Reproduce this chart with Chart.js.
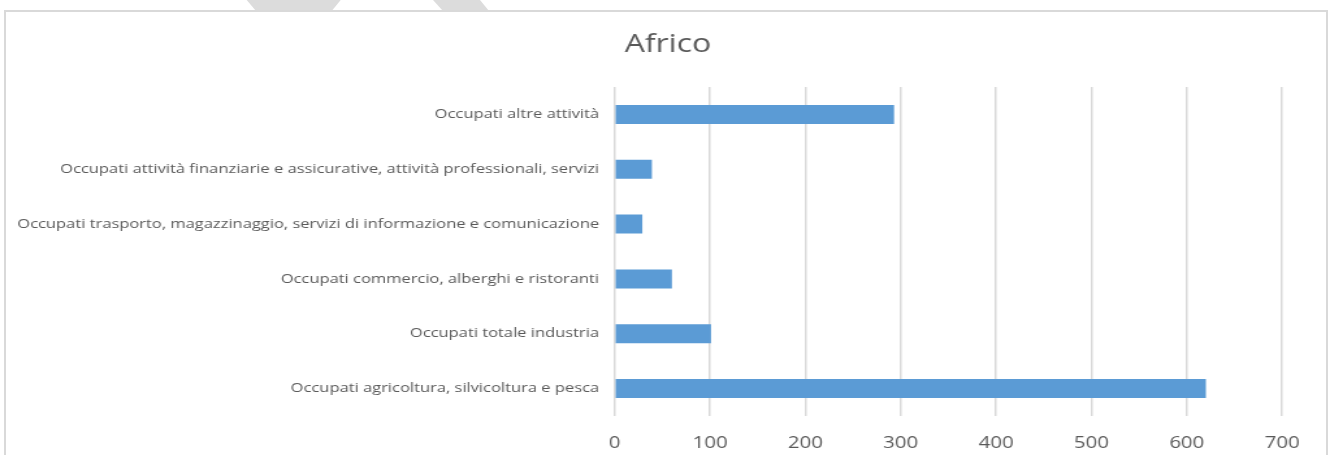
<!DOCTYPE html>
<html>
<head>
<meta charset="utf-8">
<script src="https://cdn.jsdelivr.net/npm/chart.js@4/dist/chart.umd.min.js"></script>
<style>
  html, body { margin: 0; padding: 0; background: #ffffff; overflow: hidden; }
  body { width: 1330px; height: 455px; position: relative; }
  #wm { position: absolute; left: 0; top: 0; }
  #frame { position: absolute; left: 4px; top: 10px; width: 1320px; height: 500px;
           border: 2px solid #d9d9d9; background: #ffffff; }
  #wrap { position: absolute; left: 0; top: 0; width: 1023px; height: 455px;
          transform: scaleX(1.3001); transform-origin: 0 0; }
  canvas { display: block; }
</style>
</head>
<body>
<svg id="wm" width="1330" height="12">
  <polygon points="246.7,0 340.7,0 331.7,11 256,11" fill="#dcdcdc"/>
  <polygon points="433,0 480,0 489,11 443,11" fill="#dcdcdc"/>
</svg>
<div id="frame"></div>
<div id="wrap"><canvas id="c" width="1023" height="455"></canvas></div>
<script>
const chartTitle = "Africo";
const categories = [
  "Occupati altre attività",
  "Occupati attività finanziarie e assicurative, attività professionali, servizi",
  "Occupati trasporto, magazzinaggio, servizi di informazione e comunicazione",
  "Occupati commercio, alberghi e ristoranti",
  "Occupati totale industria",
  "Occupati agricoltura, silvicoltura e pesca"
];
const occupati = [293, 39, 29, 60, 101, 620];
const xTicks = [0, 100, 200, 300, 400, 500, 600, 700];

const grey = "#595959";
const font = "'Open Sans', 'DejaVu Sans', sans-serif";

new Chart(document.getElementById("c"), {
  type: "bar",
  data: {
    labels: categories,
    datasets: [{
      data: occupati,
      backgroundColor: "#5b9bd5",
      borderWidth: 0,
      barPercentage: 0.347,
      categoryPercentage: 1.0
    }]
  },
  options: {
    indexAxis: "y",
    responsive: false,
    animation: false,
    devicePixelRatio: 1,
    layout: { padding: { left: 8, right: 3.4, top: 0, bottom: 0 } },
    plugins: {
      legend: { display: false },
      tooltip: { enabled: false },
      title: {
        display: true,
        text: chartTitle,
        color: grey,
        font: { family: font, size: 24.6, weight: "normal", lineHeight: 1.2 },
        padding: { top: 30.5, bottom: 27 }
      }
    },
    scales: {
      x: {
        min: xTicks[0],
        max: xTicks[xTicks.length - 1],
        afterBuildTicks: (s) => { s.ticks = xTicks.map(v => ({ value: v })); },
        afterFit: (s) => { s.height = 39; },
        grid: { color: "#d9d9d9", lineWidth: 1.5, drawTicks: false },
        border: { display: false },
        ticks: { color: grey, padding: 18, font: { family: font, size: 15.7 } }
      },
      y: {
        afterFit: (s) => { s.width = 464.8; },
        grid: { display: false, drawTicks: false },
        border: { display: false },
        ticks: { color: grey, padding: 12, font: { family: font, size: 12.7 } }
      },
      yRight: {
        type: "category",
        position: "right",
        display: true,
        afterFit: (s) => { s.width = 33.4; },
        grid: { display: false, drawTicks: false },
        border: { display: false },
        ticks: { display: false }
      }
    }
  }
});
</script>
</body>
</html>
